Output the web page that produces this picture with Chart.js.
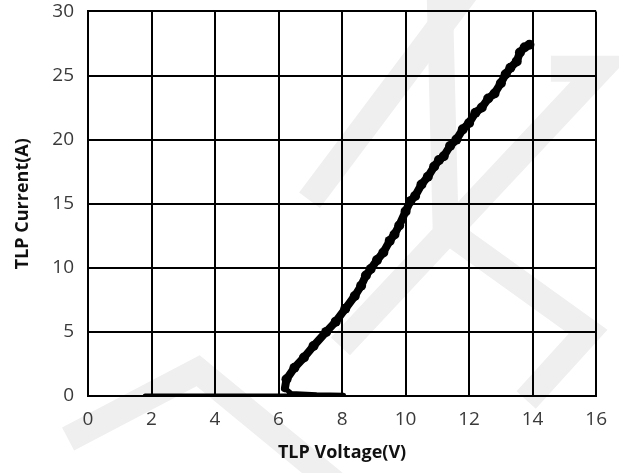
<!DOCTYPE html>
<html>
<head>
<meta charset="utf-8">
<script src="https://cdn.jsdelivr.net/npm/chart.js@4.4.0/dist/chart.umd.min.js"></script>
<style>
  html, body { margin: 0; padding: 0; background: #fff; overflow: hidden; }
  #wrap { width: 619px; height: 487px; margin-top: -14px; }
</style>
</head>
<body>
<div id="wrap"><canvas id="tlpChart"></canvas></div>
<script>
// TLP sweep: voltage (V) and current (A)
const voltage = [1.8, 3.0, 4.5, 6.0, 7.0, 8.05, 7.2, 6.4, 6.2, 6.25, 6.5, 6.8, 7.1, 7.5, 7.8, 8.1, 8.4, 8.6, 8.75, 8.9, 9.1, 9.3, 9.5, 9.65, 9.8, 10.0, 10.15, 10.3, 10.5, 10.7, 10.9, 11.05, 11.2, 11.4, 11.6, 11.8, 12.0, 12.2, 12.4, 12.6, 12.8, 13.0, 13.15, 13.3, 13.5, 13.6, 13.75, 13.9];
const current = [0, 0, 0, 0, 0, 0.05, 0.1, 0.2, 0.6, 1.3, 2.2, 3.0, 3.9, 5.0, 5.8, 6.8, 7.8, 8.6, 9.4, 9.9, 10.6, 11.2, 12.1, 12.6, 13.3, 14.4, 15.2, 15.6, 16.5, 17.1, 17.9, 18.4, 18.7, 19.5, 20.0, 20.8, 21.3, 22.1, 22.5, 23.2, 23.6, 24.4, 25.1, 25.6, 26.1, 26.8, 27.2, 27.4];
const xTicks = [0, 2, 4, 6, 8, 10, 12, 14, 16];
const yTicks = [0, 5, 10, 15, 20, 25, 30];

const points = voltage.map((v, i) => ({ x: v, y: current[i] }));
const font = "'Open Sans', 'Noto Sans', sans-serif";

// faint grey watermark strokes behind the plot (fractions of the canvas)
const watermark = {
    id: 'watermark',
    beforeDraw(chart) {
        const c = chart.ctx, W = chart.width, H = chart.height;
        const strokes = [
            [[0.11, 0.93], [0.32, 0.79], [0.54, 1.02]],
            [[0.50, 0.44], [0.76, 0.0]],
            [[0.71, 0.0], [0.72, 0.50], [0.95, 0.71], [0.85, 0.85]],
            [[0.89, 0.17], [0.97, 0.17], [0.55, 0.74]]
        ];
        c.save();
        c.strokeStyle = '#efefef';
        c.lineWidth = 26;
        c.lineJoin = 'miter';
        strokes.forEach(s => {
            c.beginPath();
            s.forEach((p, i) => i ? c.lineTo(p[0] * W, p[1] * H) : c.moveTo(p[0] * W, p[1] * H));
            c.stroke();
        });
        c.restore();
    }
};

document.addEventListener('DOMContentLoaded', function () {
    const ctx = document.getElementById('tlpChart').getContext('2d');
    new Chart(ctx, {
        type: 'scatter',
        data: {
            datasets: [{
                data: points,
                showLine: true,
                borderColor: '#000',
                backgroundColor: '#000',
                pointRadius: c => c.dataIndex < 9 ? 0 : 5,
                pointBorderWidth: 0,
                borderJoinStyle: 'round',
                borderCapStyle: 'round',
                segment: {
                    borderWidth: c => c.p0DataIndex < 8 ? 5 : 8
                }
            }]
        },
        plugins: [watermark],
        options: {
            responsive: true,
            maintainAspectRatio: false,
            animation: false,
            layout: { padding: { top: 0, right: 16, left: 0, bottom: 0 } },
            plugins: { legend: { display: false }, tooltip: { enabled: false } },
            scales: {
                x: {
                    type: 'linear',
                    min: 0, max: 16,
                    afterBuildTicks: s => { s.ticks = xTicks.map(v => ({ value: v })); },
                    afterFit: s => { s.height = 77; },
                    grid: { color: '#000', lineWidth: 2, drawTicks: false },
                    border: { color: '#000', width: 2 },
                    ticks: { color: '#3a3a3a', padding: 12, font: { family: font, size: 19 } },
                    title: {
                        display: true, text: 'TLP Voltage(V)', color: '#111',
                        padding: { top: 4, bottom: 9 },
                        font: { family: font, size: 18, weight: 'bold' }
                    }
                },
                y: {
                    type: 'linear',
                    min: 0, max: 30,
                    afterBuildTicks: s => { s.ticks = yTicks.map(v => ({ value: v })); },
                    afterFit: s => { s.width = 88; },
                    grid: { color: '#000', lineWidth: 2, drawTicks: false },
                    border: { color: '#000', width: 2 },
                    ticks: { color: '#3a3a3a', padding: 14, font: { family: font, size: 19 } },
                    title: {
                        display: true, text: 'TLP Current(A)', color: '#111',
                        padding: { top: 12, bottom: 0 },
                        font: { family: font, size: 18, weight: 'bold' }
                    }
                }
            }
        }
    });
});
</script>
</body>
</html>
